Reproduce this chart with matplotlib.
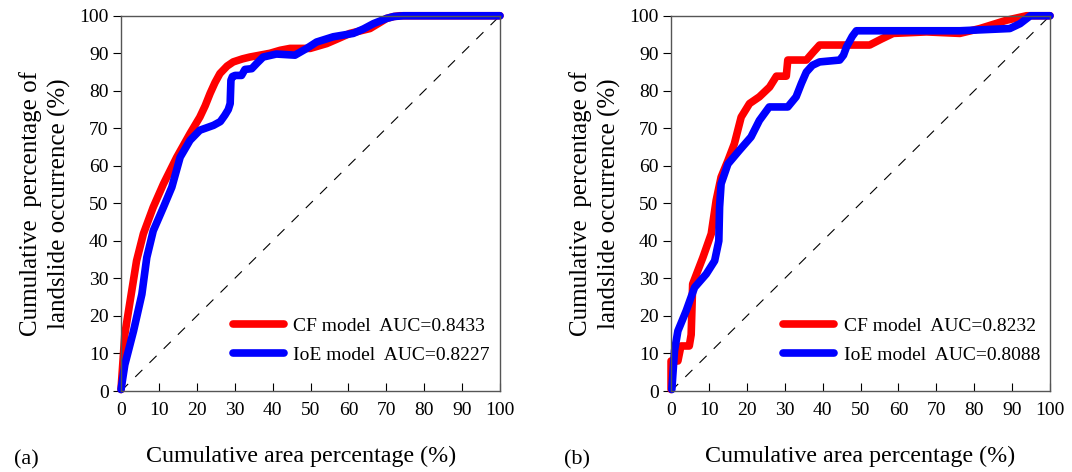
import numpy as np
import matplotlib.pyplot as plt

plt.rcParams['font.family'] = ['Liberation Serif', 'DejaVu Serif']

# (a) curves
a_cf_x = [0, 1.0, 2.4, 4.1, 5.9, 8.5, 11.2, 14.7, 18.2, 20.8, 22.2, 23.5, 24.8, 26.1, 28.0, 29.6, 32, 34, 39.3, 42, 44.6, 49.9, 54.3, 57.5, 60.4, 65.7, 68, 70.1, 72, 73.6, 100]
a_cf_y = [0.4, 15.1, 24, 34.7, 41.9, 49, 55.2, 62.3, 68.6, 73, 76, 79.3, 82.2, 84.6, 86.6, 87.7, 88.5, 89, 90, 90.8, 91.3, 91.3, 92.6, 94, 95.3, 96.6, 98, 99.3, 99.8, 100, 100]
a_ioe_x = [0, 1.0, 3.3, 5.5, 6.8, 8.5, 11.2, 13.4, 15.6, 18.2, 20.8, 24.4, 26.2, 27.4, 28.3, 28.8, 29, 29.4, 30.1, 31.8, 32.7, 34.5, 36, 37.5, 41, 45.9, 49, 51.6, 56, 61.3, 64, 66.6, 70.1, 72, 74.5, 100]
a_ioe_y = [0.4, 7, 16, 25.8, 35.6, 42.7, 49, 54.3, 62.3, 66.8, 69.5, 70.8, 71.8, 73.5, 75, 76.6, 82.8, 83.8, 84.1, 84.1, 85.7, 85.9, 87.5, 89, 89.8, 89.5, 91.3, 93, 94.4, 95.3, 96.5, 97.9, 99.3, 99.8, 100, 100]

# (b) curves
b_cf_x = [0, 0, 1.8, 2.6, 4.8, 5.3, 5.7, 8.4, 10.6, 11.9, 13.2, 15, 16.7, 18.5, 20.7, 23.3, 26, 27.8, 30.4, 30.8, 35.7, 37.5, 39.2, 52.4, 55.5, 58.6, 67.4, 76.2, 81.5, 88.5, 93.8, 100]
b_cf_y = [0.4, 8, 8, 12, 12, 15, 28.5, 35.6, 41.9, 50.8, 57, 61.4, 65.9, 73, 76.6, 78.4, 81, 83.9, 83.9, 88.2, 88.2, 90.3, 92.2, 92.2, 93.8, 95.3, 95.7, 95.3, 96.6, 98.8, 100, 100]
b_ioe_x = [0.2, 0.9, 1.8, 4, 6.2, 9.3, 11.5, 12.6, 12.8, 13.2, 15, 18, 21.1, 23.3, 25.9, 30.8, 33, 34.4, 35.7, 37.3, 39.2, 44.5, 45.5, 46.3, 47.8, 48.9, 76.2, 89.4, 92.1, 94.8, 100]
b_ioe_y = [0.4, 10.7, 16, 21.4, 27.6, 31.2, 34.7, 40, 49, 55.2, 60.5, 64.1, 67.7, 72.1, 75.7, 75.7, 78.4, 82, 85, 86.8, 87.7, 88.2, 89.5, 91.7, 94.5, 96, 96, 96.6, 97.9, 100, 100]

panels = [
    ('(a)', a_cf_x, a_cf_y, a_ioe_x, a_ioe_y, 'CF model  AUC=0.8433', 'IoE model  AUC=0.8227'),
    ('(b)', b_cf_x, b_cf_y, b_ioe_x, b_ioe_y, 'CF model  AUC=0.8232', 'IoE model  AUC=0.8088'),
]
ticks = np.arange(0, 101, 10)

fig = plt.figure(figsize=(10.72, 4.72), dpi=100)
lefts = [0.1129, 0.626]
xlab_pos = [0.475, 0.5]

for left, xl, (tag, cx, cy, ix, iy, lab1, lab2) in zip(lefts, xlab_pos, panels):
    ax = fig.add_axes([left, 0.1716, 0.3535, 0.795])
    ax.plot([0, 100], [0, 100], color='black', lw=0.8, dashes=(9, 9))
    ax.plot(cx, cy, color='red', lw=5.5, solid_capstyle='round', solid_joinstyle='round',
            clip_on=False, label=lab1)
    ax.plot(ix, iy, color='blue', lw=5.5, solid_capstyle='round', solid_joinstyle='round',
            clip_on=False, label=lab2)
    ax.set_xlim(0, 100)
    ax.set_ylim(0, 100)
    ax.set_xticks(ticks)
    ax.set_yticks(ticks)
    ax.tick_params(axis='x', direction='in', length=6, labelsize=14, pad=8)
    ax.tick_params(axis='y', direction='out', length=6, labelsize=14, pad=3)
    for s in ax.spines.values():
        s.set_color('#555555')
        s.set_linewidth(1.0)
    ax.set_xlabel('Cumulative area percentage (%)', fontsize=17.3, labelpad=18)
    ax.xaxis.set_label_coords(xl, -0.145)
    ax.set_ylabel('Cumulative  percentage of\nlandslide occurrence (%)', fontsize=18,
                  labelpad=6, linespacing=1.3)
    ax.legend(loc='lower right', bbox_to_anchor=(1.02, 0.025), frameon=False, fontsize=14,
              handlelength=2.6, handletextpad=0.5, labelspacing=0.6)
    fig.text(left - 0.1, 0.015, tag, fontsize=16)

fig.savefig('out.png', dpi=100)
